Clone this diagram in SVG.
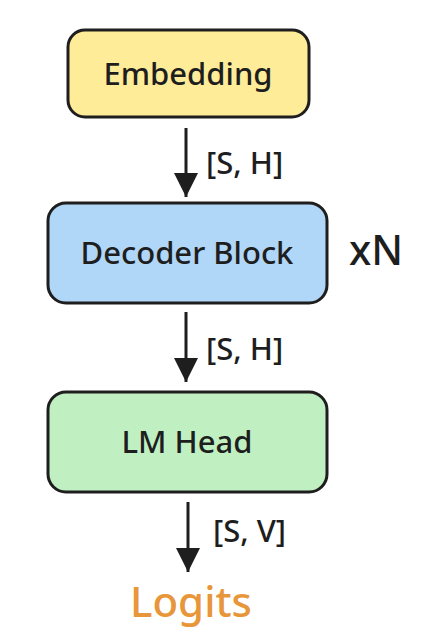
<svg xmlns="http://www.w3.org/2000/svg" width="424" height="644" viewBox="0 0 424 644">
<defs>
<style>
.box{stroke:#1e1e1e;stroke-width:3}
.lbl{font-family:"Noto Sans","Liberation Sans",sans-serif;font-weight:500;fill:#1e1e1e;text-anchor:middle}
.edge{stroke:#1e1e1e;stroke-width:3;fill:none}
.dim{font-family:"Noto Sans","Liberation Sans",sans-serif;font-weight:500;fill:#1e1e1e;font-size:31px}
</style>
<marker id="ah" viewBox="0 0 24 26" refX="24" refY="12" markerWidth="24" markerHeight="26" markerUnits="userSpaceOnUse" orient="auto">
<path d="M0,0 L24,12 L0,24 Z" fill="#1e1e1e"/>
</marker>
</defs>
<rect width="424" height="644" fill="#ffffff"/>
<g id="embedding">
<rect class="box" x="68" y="30" width="241" height="87" rx="17" fill="#ffec99"/>
<text class="lbl" x="188" y="85" font-size="31">Embedding</text>
</g>
<g id="decoder">
<rect class="box" x="48" y="203" width="279" height="100" rx="18" fill="#b0d6f8"/>
<text class="lbl" x="187" y="264" font-size="31">Decoder Block</text>
<text class="lbl" x="376" y="265" font-size="41">xN</text>
</g>
<g id="lmhead">
<rect class="box" x="48" y="392" width="279" height="100" rx="18" fill="#c0f0c2"/>
<text class="lbl" x="187" y="453" font-size="31">LM Head</text>
</g>
<g id="logits">
<text x="191" y="617" font-size="42" font-weight="500" font-family="Noto Sans, Liberation Sans, sans-serif" fill="#e8963a" text-anchor="middle">Logits</text>
</g>
<g id="connectors">
<path class="edge" d="M186,128 V197" marker-end="url(#ah)"/>
<path class="edge" d="M186,312 V382" marker-end="url(#ah)"/>
<path class="edge" d="M188,502 V572" marker-end="url(#ah)"/>
<text class="dim" x="206" y="174">[S, H]</text>
<text class="dim" x="206" y="360">[S, H]</text>
<text class="dim" x="213" y="542">[S, V]</text>
</g>
</svg>
